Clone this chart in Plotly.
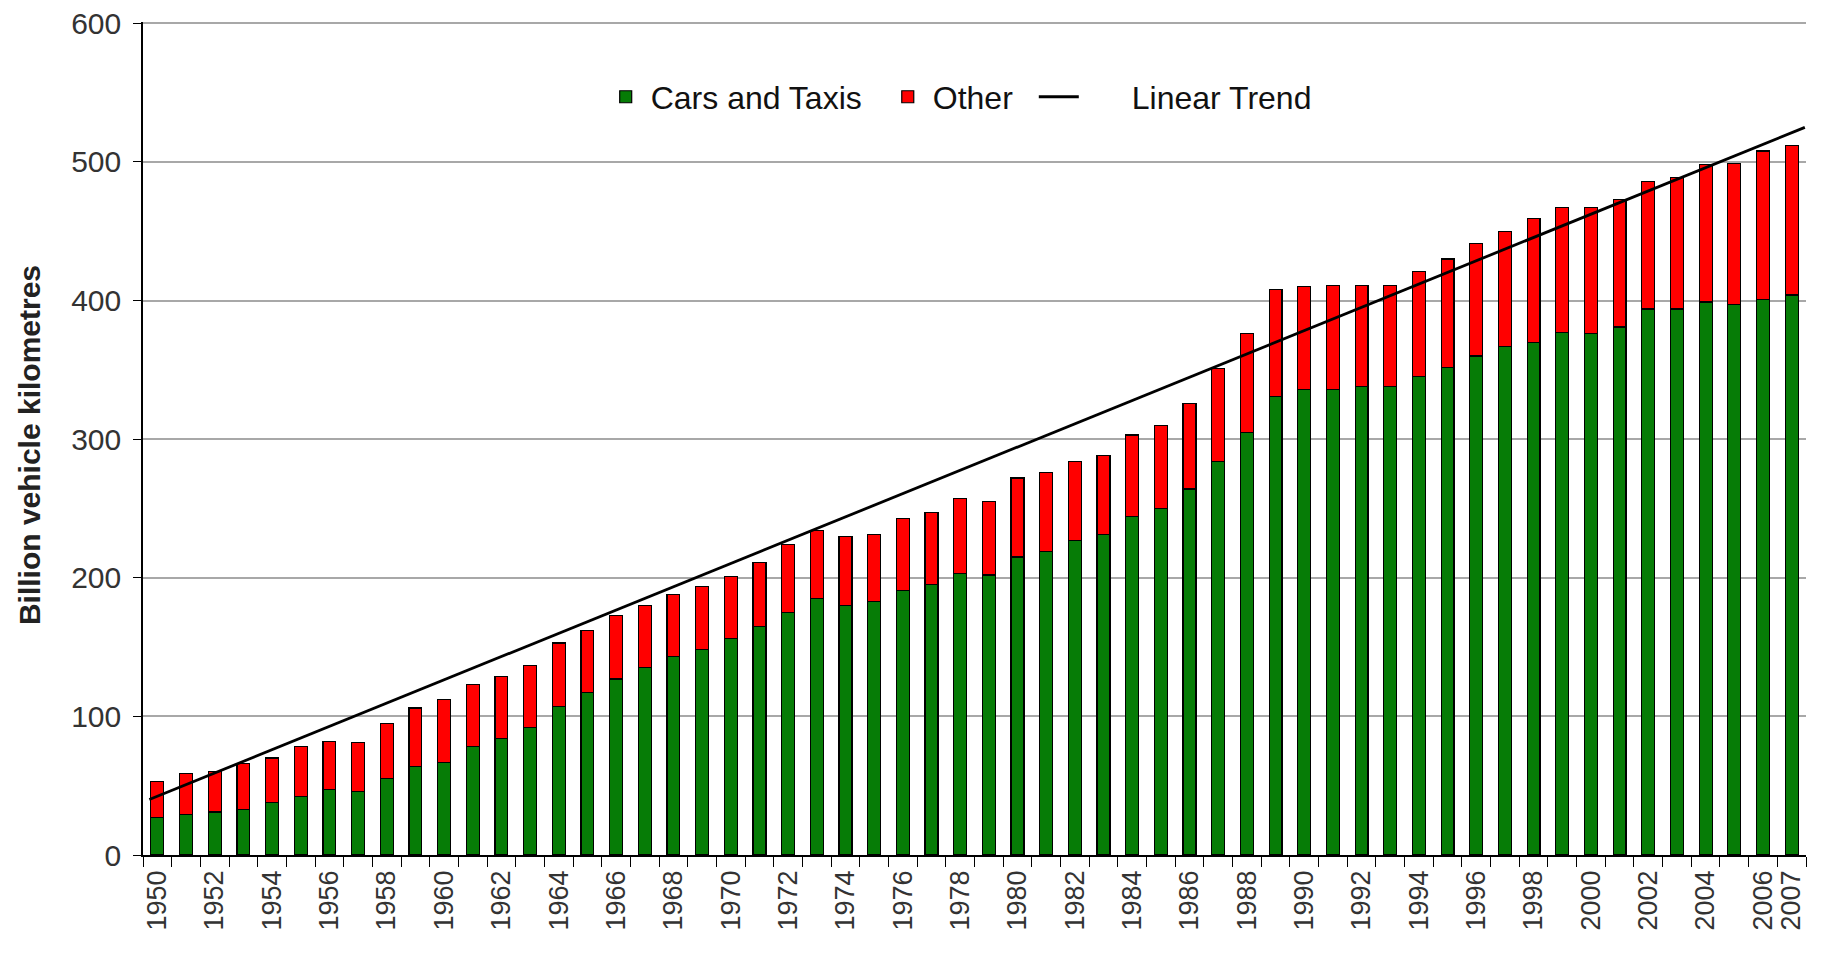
import plotly.graph_objects as go

years = list(range(1950, 2008))

cars_taxis = [27, 29, 31, 33, 38, 42, 47, 46, 55, 64,
              67, 78, 84, 92, 107, 117, 127, 135, 143, 148,
              156, 165, 175, 185, 180, 183, 191, 195, 203, 202,
              215, 219, 227, 231, 244, 250, 264, 284, 305, 331,
              336, 336, 338, 338, 345, 352, 360, 367, 370, 377,
              376, 381, 394, 394, 399, 397, 401, 404]

totals = [53, 59, 60, 66, 70, 78, 82, 81, 95, 106,
          112, 123, 129, 137, 153, 162, 173, 180, 188, 194,
          201, 211, 224, 234, 230, 231, 243, 247, 257, 255,
          272, 276, 284, 288, 303, 310, 326, 351, 376, 408,
          410, 411, 411, 411, 421, 430, 441, 450, 459, 467,
          467, 473, 486, 489, 498, 499, 508, 512]

other = [t - c for t, c in zip(totals, cars_taxis)]

trend_years = [1949.72, 2007.46]
trend_values = [40, 525]

tick_years = list(range(1950, 2007, 2)) + [2007]
y_ticks = [0, 100, 200, 300, 400, 500, 600]

FONT = "Liberation Sans, Arial, sans-serif"

fig = go.Figure()
fig.add_trace(go.Bar(x=years, y=cars_taxis, name="Cars and Taxis\u2002", width=0.45,
                     marker=dict(color="#067c06", line=dict(color="black", width=1.2))))
fig.add_trace(go.Bar(x=years, y=other, name="Other\u2002", width=0.45,
                     marker=dict(color="#ff0000", line=dict(color="black", width=1.2))))
fig.add_trace(go.Scatter(x=trend_years, y=trend_values, mode="lines",
                         name="\u2003\u2002Linear Trend",
                         line=dict(color="black", width=2.8)))

fig.update_layout(
    barmode="stack",
    width=1827, height=954,
    margin=dict(l=135, r=29, t=14, b=107),
    plot_bgcolor="white", paper_bgcolor="white",
    font=dict(family=FONT, color="#222222"),
    showlegend=True,
    legend=dict(orientation="h", x=0.4905, y=0.91, xanchor="center", yanchor="middle",
                font=dict(size=32, family=FONT, color="#111111"),
                bgcolor="rgba(0,0,0,0)", traceorder="normal", itemwidth=40),
    xaxis=dict(range=[1949.5, 2007.5], tickmode="array", tickvals=tick_years,
               ticktext=[str(y) for y in tick_years], tickangle=-90,
               tickfont=dict(size=27, family=FONT, color="#333333"),
               ticks="", showgrid=False, showline=True, linecolor="black", linewidth=1.5,
               ticklabelstandoff=3, ticklabeloverflow="allow", automargin=False,
               minor=dict(tickmode="array", tickvals=[1949.5 + i for i in range(59)],
                          ticks="outside", ticklen=10, tickcolor="black", tickwidth=1.2,
                          showgrid=False),
               zeroline=False),
    yaxis=dict(range=[0, 601], tickmode="array", tickvals=y_ticks,
               tickfont=dict(size=30, family=FONT, color="#333333"),
               ticks="outside", ticklen=8, tickcolor="black", tickwidth=1.2,
               showgrid=True, gridcolor="#a8a8a8", gridwidth=1.5,
               showline=True, linecolor="black", linewidth=1.5, automargin=False,
               zeroline=False, ticklabelstandoff=6, ticklabeloverflow="allow"),
    annotations=[dict(text="<b>Billion vehicle kilometres</b>", xref="paper", yref="paper",
                      x=-0.0686, y=0.492, textangle=-90, showarrow=False,
                      xanchor="center", yanchor="middle",
                      font=dict(size=30, family=FONT, color="#222222"))],
)

fig.write_html("out.html")
